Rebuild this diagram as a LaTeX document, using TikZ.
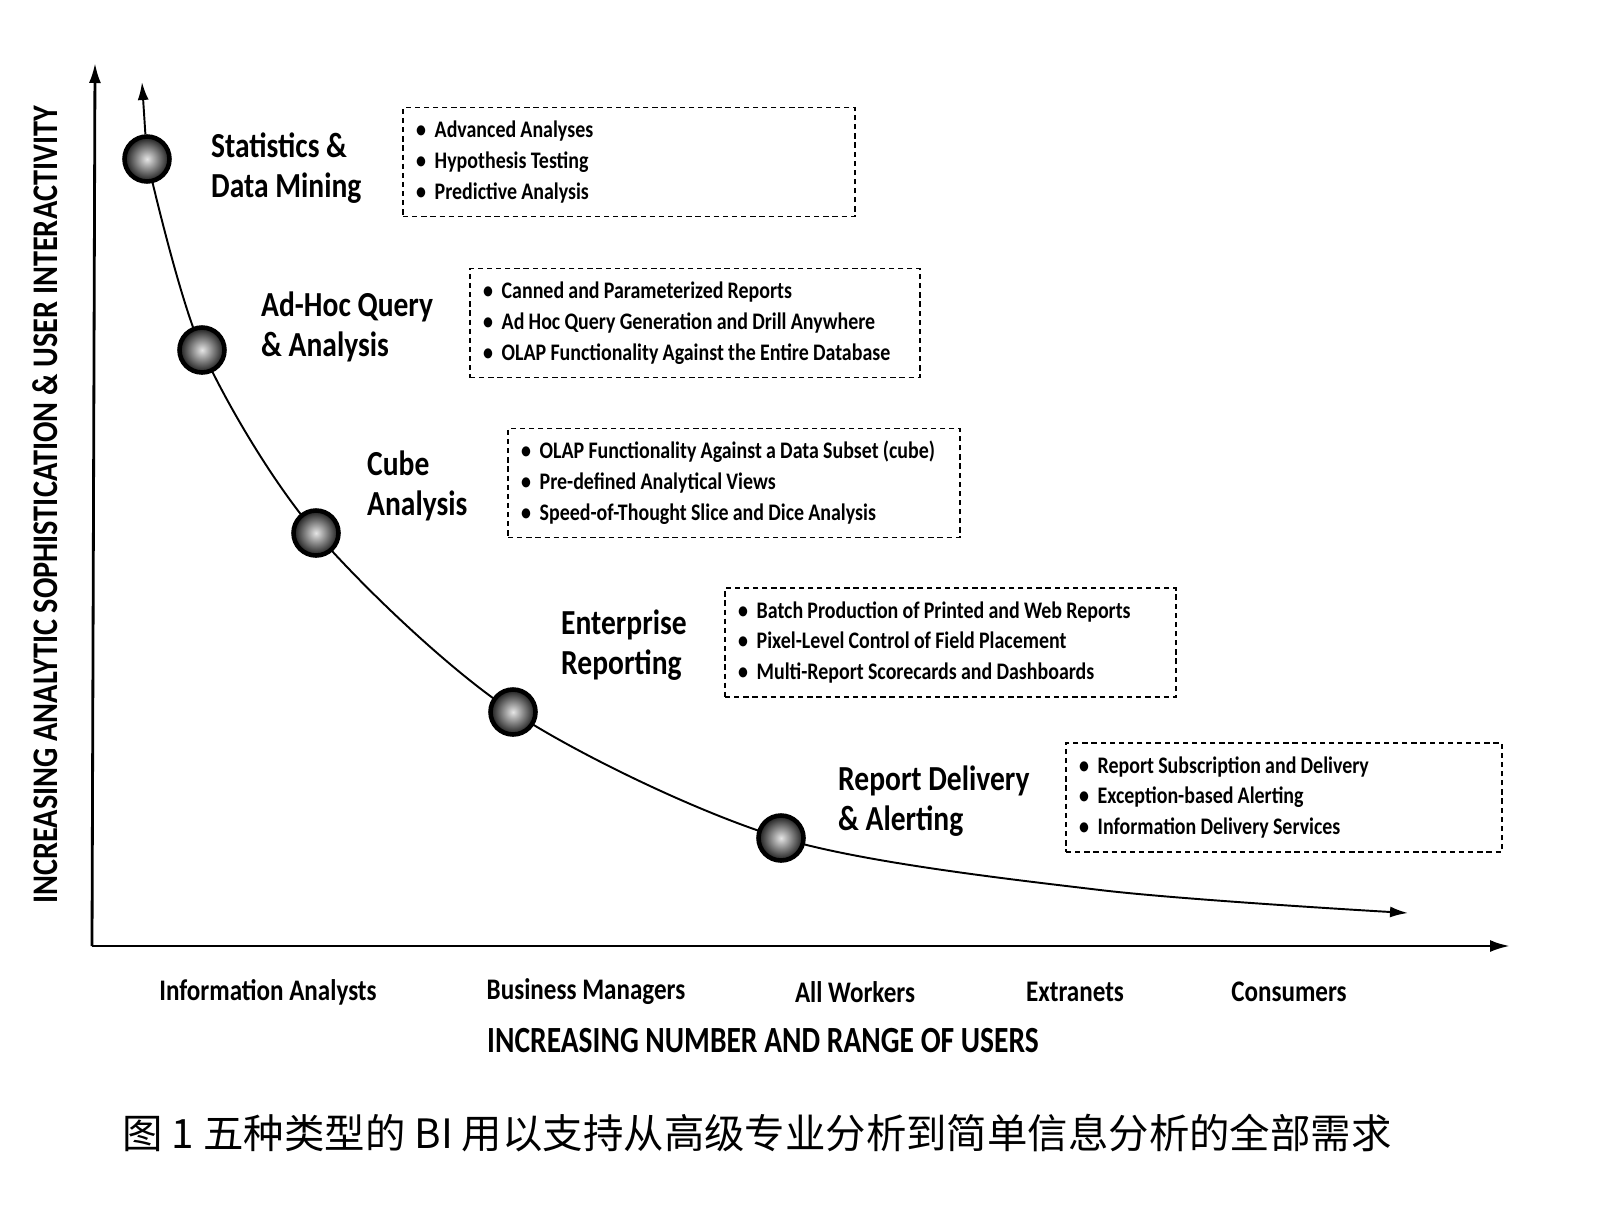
\documentclass[tikz,border=0pt]{standalone}
\usepackage{fontspec}
\usepackage{tikz}
\usetikzlibrary{arrows.meta}
\setmainfont[FakeStretch=0.84]{Carlito}
\newfontfamily\condfont[FakeStretch=0.8]{Carlito}
\newfontfamily\itemfont[FakeStretch=0.84]{Carlito Bold}
\newfontfamily\cjk{Noto Sans CJK SC}
\newcommand\bul{\textbullet\hspace{5pt}}

\tikzset{
	ball/.style={circle, draw=black, line width=2.6pt, minimum size=0.9cm, inner sep=0pt,
		shading=radial, inner color=white!80!gray, outer color=black!90},
	stagetitle/.style={anchor=west, align=left, font=\bfseries\fontsize{20}{23}\selectfont},
	infobox/.style={draw, dash pattern=on 3pt off 2.2pt, line width=0.9pt, inner xsep=0.26cm,
		minimum height=2.18cm, align=left, font=\itemfont\fontsize{13.5}{17.6}\selectfont,
		execute at begin node={\spaceskip=2.4pt plus 0.6pt\relax}},
	usergroup/.style={font=\bfseries\fontsize{17}{19}\selectfont},
	axisarrow/.style={line width=1.6pt, -{Latex[length=4mm,width=2.4mm]}},
	curvearrow/.style={line width=1.1pt, -{Latex[length=3.6mm,width=2.2mm]}},
}

\begin{document}
\begin{tikzpicture}
	\useasboundingbox (0,0) rectangle (32.08,-24.16);
	% axes
	\coordinate (O) at (1.84,-18.92);
	\coordinate (ytip) at (1.9,-1.26);
	\coordinate (xtip) at (30.2,-18.92);
	\draw[axisarrow] (O) -- (ytip);
	\draw[axisarrow] (O) -- (xtip);
	% the curve
	\coordinate (top) at (2.84,-1.64);
	\coordinate (p1) at (2.94,-3.18);
	\coordinate (p2) at (4.04,-7.0);
	\coordinate (p3) at (6.32,-10.66);
	\coordinate (p4) at (10.26,-14.24);
	\coordinate (p5) at (15.62,-16.76);
	\coordinate (p6) at (22.0,-17.8);
	\coordinate (end) at (28.16,-18.26);
	\draw[curvearrow]
		plot[smooth, tension=0.5] coordinates {(p1) (p2) (p3) (p4) (p5) (p6) (end)};
	\node[ball] (s1) at (p1) {};
	\node[ball] (s2) at (p2) {};
	\node[ball] (s3) at (p3) {};
	\node[ball] (s4) at (p4) {};
	\node[ball] (s5) at (p5) {};
	\draw[curvearrow] (s1) -- (top);
	% stage titles
	\node[stagetitle] (t1) at (4.1,-3.36) {Statistics \&\\Data Mining};
	\node[stagetitle] (t2) at (5.1,-6.54) {Ad-Hoc Query\\\& Analysis};
	\node[stagetitle] (t3) at (7.22,-9.72) {Cube\\Analysis};
	\node[stagetitle] (t4) at (11.1,-12.9) {Enterprise\\Reporting};
	\node[stagetitle] (t5) at (16.64,-16.02) {Report Delivery\\\& Alerting};
	% feature boxes
	\node[infobox, text width=8.52cm] (b1) at (12.58,-3.24)
		{\bul Advanced Analyses\\\bul Hypothesis Testing\\\bul Predictive Analysis};
	\node[infobox, text width=8.48cm] (b2) at (13.9,-6.46)
		{\bul Canned and Parameterized Reports\\\bul Ad Hoc Query Generation and Drill Anywhere\\\bul OLAP Functionality Against the Entire Database};
	\node[infobox, text width=8.52cm] (b3) at (14.68,-9.66)
		{\bul OLAP Functionality Against a Data Subset (cube)\\\bul Pre-defined Analytical Views\\\bul Speed-of-Thought Slice and Dice Analysis};
	\node[infobox, text width=8.5cm] (b4) at (19.01,-12.85)
		{\bul Batch Production of Printed and Web Reports\\\bul Pixel-Level Control of Field Placement\\\bul Multi-Report Scorecards and Dashboards};
	\node[infobox, text width=8.2cm] (b5) at (25.68,-15.95)
		{\bul Report Subscription and Delivery\\\bul Exception-based Alerting\\\bul Information Delivery Services};
	% axis labels
	\node[rotate=90, font=\bfseries\fontsize{20.5}{23}\selectfont] (ylab) at (0.9,-10.1)
		{INCREASING ANALYTIC SOPHISTICATION \& USER INTERACTIVITY};
	\node[usergroup] (u1) at (5.36,-19.84) {Information Analysts};
	\node[usergroup] (u2) at (11.72,-19.84) {Business Managers};
	\node[usergroup] (u3) at (17.1,-19.84) {All Workers};
	\node[usergroup] (u4) at (21.5,-19.84) {Extranets};
	\node[usergroup] (u5) at (25.78,-19.84) {Consumers};
	\node[font=\condfont\bfseries\fontsize{21}{24}\selectfont] (xlab) at (15.26,-20.82)
		{INCREASING NUMBER AND RANGE OF USERS};
	% caption
	\node[font=\cjk\fontsize{23}{27}\selectfont] (cap) at (15.14,-22.66)
		{图 1 五种类型的 BI 用以支持从高级专业分析到简单信息分析的全部需求};
\end{tikzpicture}
\end{document}
